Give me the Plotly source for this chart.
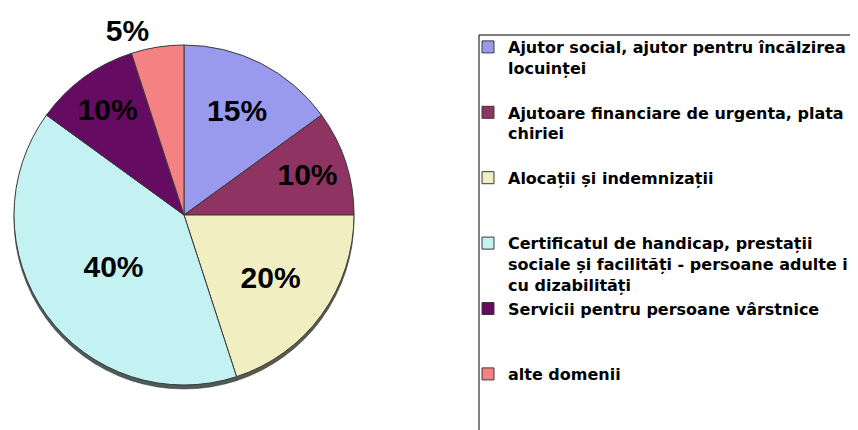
import plotly.graph_objects as go

categories = [
    "Ajutor social, ajutor pentru încălzirea<br>locuinței",
    "Ajutoare financiare de urgenta, plata<br>chiriei",
    "Alocații și indemnizații",
    "Certificatul de handicap, prestații<br>sociale și facilități - persoane adulte i<br>cu dizabilități",
    "Servicii pentru persoane vârstnice",
    "alte domenii",
]
values = [15, 10, 20, 40, 10, 5]
colors = ["#9999EE", "#8F3362", "#F1EFC2", "#C4F1F1", "#660B62", "#F58282"]
shadow_colors = ["#4a4a66", "#4a2a3a", "#5a5a48", "#4a5c5c", "#3a1a3a", "#6a4a4a"]
# number of text lines each legend entry occupies (padding to mimic spacing)
legend_lines = [3, 3, 3, 3, 3, 1]

legend_labels = []
for c, n in zip(categories, legend_lines):
    k = c.count("<br>") + 1
    bold = "<br>".join("<b>" + part + "</b>" for part in c.split("<br>"))
    legend_labels.append(bold + "<br> " * max(0, n - k))

W, H = 858, 430
cx, cy, r = 176, 207, 170
depth = 4
FONT = "Liberation Sans, Arial, sans-serif"
LEGEND_FONT = "DejaVu Sans, Arial, sans-serif"

dom_x = [(cx - r) / W, (cx + r) / W]
dom_y = [(H - cy - r) / H, (H - cy + r) / H]
dom_y_shadow = [(H - cy - depth - r) / H, (H - cy - depth + r) / H]

fig = go.Figure()

# 3D rim / shadow under the pie
fig.add_trace(
    go.Pie(
        labels=legend_labels,
        values=values,
        sort=False,
        direction="clockwise",
        rotation=0,
        marker=dict(colors=shadow_colors, line=dict(color="#333333", width=0.5)),
        textinfo="none",
        showlegend=False,
        hoverinfo="skip",
        domain=dict(x=dom_x, y=dom_y_shadow),
    )
)

fig.add_trace(
    go.Pie(
        labels=legend_labels,
        values=values,
        sort=False,
        direction="clockwise",
        rotation=0,
        marker=dict(colors=colors, line=dict(color="#3a3a3a", width=1)),
        texttemplate="<b>%{percent:.0%}</b>",
        textposition=["inside", "inside", "inside", "inside", "inside", "outside"],
        insidetextorientation="horizontal",
        textfont=dict(family=FONT, size=30, color="black"),
        outsidetextfont=dict(family=FONT, size=30, color="black"),
        domain=dict(x=dom_x, y=dom_y),
        hoverinfo="label+percent",
    )
)

fig.update_layout(
    width=W,
    height=H,
    margin=dict(l=0, r=0, t=0, b=0),
    paper_bgcolor="white",
    plot_bgcolor="white",
    showlegend=True,
    legend=dict(
        x=460 / W,
        y=1 - 22 / H,
        xanchor="left",
        yanchor="top",
        valign="top",
        font=dict(family=LEGEND_FONT, size=16, color="black"),
        bgcolor="rgba(0,0,0,0)",
        itemwidth=30,
    ),
    shapes=[
        dict(type="rect", xref="paper", yref="paper",
             x0=471 / W, x1=1.05, y0=-0.05, y1=1 - 27 / H,
             line=dict(color="black", width=1), fillcolor="rgba(0,0,0,0)", layer="below"),
    ],
)

fig.write_html("out.html")
